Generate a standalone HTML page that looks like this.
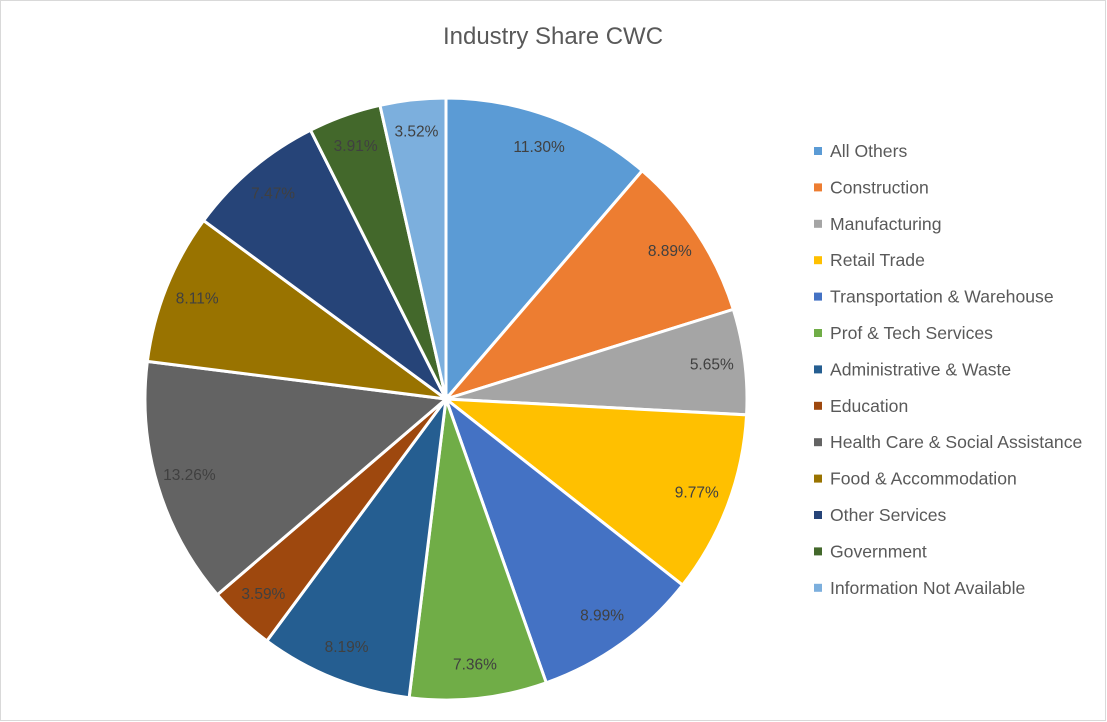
<!DOCTYPE html>
<html><head><meta charset="utf-8"><style>
body{margin:0;background:#fff;}
svg{display:block;font-family:"Liberation Sans",sans-serif;}
</style></head><body>
<svg id="s" width="1107" height="722" xmlns="http://www.w3.org/2000/svg">
<rect x="0.5" y="0.5" width="1105" height="720" fill="#fff" stroke="#d9d9d9"/>
<text x="553" y="44" text-anchor="middle" font-size="24" fill="#595959">Industry Share CWC</text>
<g id="pie"></g><g id="lab"></g><g id="leg"></g>
</svg>
<script>
var d=[["All Others",11.30,"#5b9bd5"],["Construction",8.89,"#ed7d31"],["Manufacturing",5.65,"#a5a5a5"],["Retail Trade",9.77,"#ffc000"],["Transportation & Warehouse",8.99,"#4472c4"],["Prof & Tech Services",7.36,"#70ad47"],["Administrative & Waste",8.19,"#255e91"],["Education",3.59,"#9e480e"],["Health Care & Social Assistance",13.26,"#636363"],["Food & Accommodation",8.11,"#997300"],["Other Services",7.47,"#264478"],["Government",3.91,"#43682b"],["Information Not Available",3.52,"#7cafdd"]];
var cx=446,cy=399,r=301,tot=0;d.forEach(function(e){tot+=e[1]});
var a=0,ns="http://www.w3.org/2000/svg",P=document.getElementById("pie"),L=document.getElementById("lab"),G=document.getElementById("leg");
function pt(t,rr){return [cx+rr*Math.sin(t),cy-rr*Math.cos(t)];}
d.forEach(function(e,i){
 var a0=a/tot*2*Math.PI;a+=e[1];var a1=a/tot*2*Math.PI;
 var p0=pt(a0,r),p1=pt(a1,r);
 var p=document.createElementNS(ns,"path");
 p.setAttribute("d","M"+cx+","+cy+"L"+p0[0]+","+p0[1]+"A"+r+","+r+" 0 "+((a1-a0)>Math.PI?1:0)+" 1 "+p1[0]+","+p1[1]+"Z");
 p.setAttribute("fill",e[2]);p.setAttribute("stroke","#fff");p.setAttribute("stroke-width","3");P.appendChild(p);
 var m=pt((a0+a1)/2,r*0.89);
 var t=document.createElementNS(ns,"text");t.setAttribute("x",m[0]);t.setAttribute("y",m[1]+4);
 t.setAttribute("text-anchor","middle");t.setAttribute("font-size","15.5");t.setAttribute("fill","#404040");
 t.textContent=e[1].toFixed(2)+"%";L.appendChild(t);
 var y=151+i*36.4;
 var q=document.createElementNS(ns,"rect");q.setAttribute("x",814);q.setAttribute("y",y-4);q.setAttribute("width",8);q.setAttribute("height",8);q.setAttribute("fill",e[2]);G.appendChild(q);
 var u=document.createElementNS(ns,"text");u.setAttribute("x",830);u.setAttribute("y",y+6);u.setAttribute("font-size","17.6");u.setAttribute("fill","#595959");u.textContent=e[0];G.appendChild(u);
});
</script>
</body></html>
